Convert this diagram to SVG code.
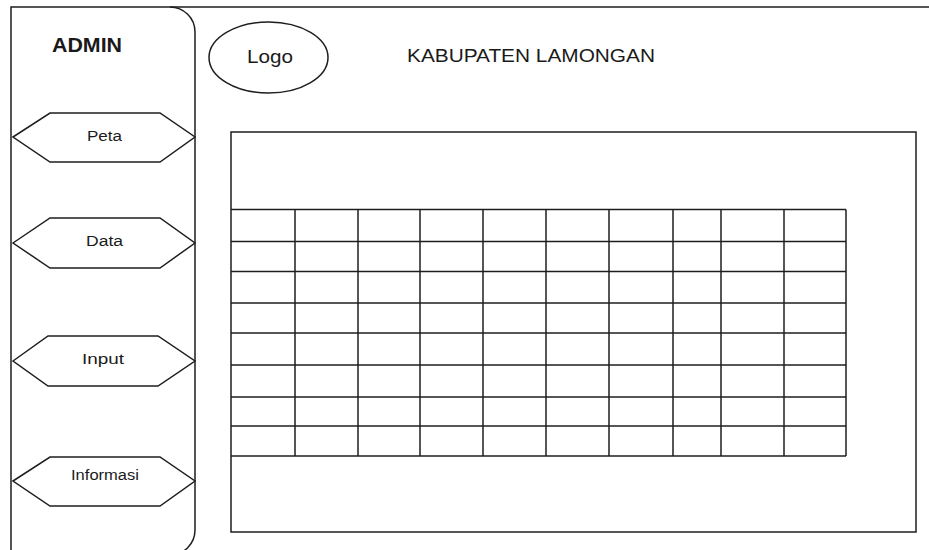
<svg xmlns="http://www.w3.org/2000/svg" width="929" height="550" viewBox="0 0 929 550">
<style>
.ln{fill:none;stroke:#1e1e1e;stroke-width:1.5}
.hex{fill:#fff;stroke:#1e1e1e;stroke-width:1.5}
.t{font-family:"Liberation Sans",Arial,sans-serif;fill:#1a1a1a}
.s{font-size:14px}
.grid line{stroke:#1e1e1e;stroke-width:1.5}
</style>
<rect width="929" height="550" fill="#fff"/>
<g id="frame">
<path class="ln" d="M11,550 V7 H929"/>
<path class="ln" d="M170,7 A25,25 0 0 1 195,32 V530 A25,25 0 0 1 170,555"/>
</g>
<g id="admin"><text class="t" x="52" y="52" font-size="20" font-weight="bold" textLength="70" lengthAdjust="spacingAndGlyphs">ADMIN</text></g>
<g id="peta"><polygon class="hex" points="13,137 50,113 160,113 195,137 160,162 50,162"/><text class="t s" x="87" y="141" textLength="35" lengthAdjust="spacingAndGlyphs">Peta</text></g>
<g id="data"><polygon class="hex" points="13,243 50,218 160,218 195,243 160,268 50,268"/><text class="t s" x="86" y="246" textLength="37" lengthAdjust="spacingAndGlyphs">Data</text></g>
<g id="input"><polygon class="hex" points="13,361 48,336 158,336 195,361 158,386 48,386"/><text class="t s" x="82" y="364" textLength="42" lengthAdjust="spacingAndGlyphs">Input</text></g>
<g id="informasi"><polygon class="hex" points="13,481 50,457 160,457 195,481 160,506 50,506"/><text class="t s" x="71" y="480" textLength="68" lengthAdjust="spacingAndGlyphs">Informasi</text></g>
<g id="logo"><ellipse class="ln" cx="268.5" cy="57.5" rx="59.5" ry="35.5"/><text class="t" x="247" y="63" font-size="19" textLength="46" lengthAdjust="spacingAndGlyphs">Logo</text></g>
<g id="title"><text class="t" x="407" y="62" font-size="19" textLength="248" lengthAdjust="spacingAndGlyphs">KABUPATEN LAMONGAN</text></g>
<g id="content"><rect class="ln" x="231" y="132" width="685" height="400"/></g>
<g id="table" class="grid">
<line x1="231" y1="209.5" x2="846" y2="209.5"/>
<line x1="231" y1="241.5" x2="846" y2="241.5"/>
<line x1="231" y1="271.5" x2="846" y2="271.5"/>
<line x1="231" y1="303" x2="846" y2="303"/>
<line x1="231" y1="333" x2="846" y2="333"/>
<line x1="231" y1="365" x2="846" y2="365"/>
<line x1="231" y1="397" x2="846" y2="397"/>
<line x1="231" y1="426" x2="846" y2="426"/>
<line x1="231" y1="456" x2="846" y2="456"/>
<line x1="295" y1="209.5" x2="295" y2="456"/>
<line x1="358" y1="209.5" x2="358" y2="456"/>
<line x1="420" y1="209.5" x2="420" y2="456"/>
<line x1="483" y1="209.5" x2="483" y2="456"/>
<line x1="546" y1="209.5" x2="546" y2="456"/>
<line x1="609" y1="209.5" x2="609" y2="456"/>
<line x1="673" y1="209.5" x2="673" y2="456"/>
<line x1="721" y1="209.5" x2="721" y2="456"/>
<line x1="784" y1="209.5" x2="784" y2="456"/>
<line x1="846" y1="209.5" x2="846" y2="456"/>
</g>
<g id="connectors"></g>
</svg>
